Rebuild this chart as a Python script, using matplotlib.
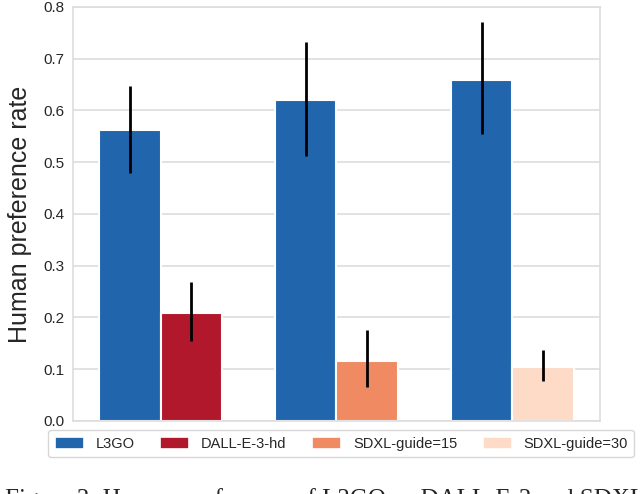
import matplotlib
matplotlib.use("Agg")
import matplotlib.pyplot as plt
import numpy as np
import seaborn as sns

# data
groups = ["DALL-E-3-hd", "SDXL-guide=15", "SDXL-guide=30"]
l3go_vals = [0.562, 0.620, 0.658]
l3go_lo = [0.479, 0.511, 0.554]
l3go_hi = [0.648, 0.732, 0.770]
other_vals = [0.208, 0.116, 0.104]
other_lo = [0.155, 0.066, 0.078]
other_hi = [0.268, 0.175, 0.137]

colors_other = ["#b2182b", "#ef8a62", "#fddbc7"]
color_l3go = "#2166ac"

sns.set_style("whitegrid")
plt.rcParams["font.family"] = ["Liberation Sans", "DejaVu Sans"]

fig = plt.figure(figsize=(6.44, 4.94), dpi=100)
ax = fig.add_axes([0.113, 0.148, 0.819, 0.838])

x = np.arange(len(groups))
w = 0.35
off = 0.175

l3go_err = [np.array(l3go_vals) - np.array(l3go_lo), np.array(l3go_hi) - np.array(l3go_vals)]
ax.bar(x - off, l3go_vals, width=w, color=color_l3go, edgecolor="white", linewidth=1.5,
       yerr=l3go_err, error_kw=dict(ecolor="black", elinewidth=2, capsize=0), zorder=2)

handles = []
handles.append(plt.Rectangle((0, 0), 1, 1, facecolor=color_l3go, edgecolor="white", linewidth=1.2))
for i in range(len(groups)):
    err = [[other_vals[i] - other_lo[i]], [other_hi[i] - other_vals[i]]]
    ax.bar(x[i] + off, other_vals[i], width=w, color=colors_other[i], edgecolor="white",
           linewidth=1.5, yerr=err, error_kw=dict(ecolor="black", elinewidth=2, capsize=0), zorder=2)
    handles.append(plt.Rectangle((0, 0), 1, 1, facecolor=colors_other[i], edgecolor="white", linewidth=1.2))

ax.set_xlim(-0.5, 2.5)
ax.set_ylim(0, 0.8)
ax.set_yticks(np.arange(0, 0.81, 0.1))
ax.set_yticklabels([f"{v:.1f}" for v in np.arange(0, 0.81, 0.1)], fontsize=11)
ax.set_xticks([])
ax.grid(axis="x", visible=False)
ax.grid(axis="y", color="#dddddd", linewidth=1.2, zorder=0)
ax.set_axisbelow(True)
for s in ax.spines.values():
    s.set_color("#dddddd")
    s.set_linewidth(1.2)
ax.tick_params(axis="y", pad=6, length=0)
ax.set_ylabel("Human preference rate", fontsize=18, labelpad=8)

leg = fig.legend(handles, ["L3GO"] + groups, loc="center", bbox_to_anchor=(0.53, 0.102),
                 ncol=4, fontsize=10.5, frameon=True, handlelength=2.0, handleheight=0.9,
                 columnspacing=1.75, handletextpad=0.8, borderpad=0.45)
leg.get_frame().set_edgecolor("#cccccc")

# figure caption, only its top shows at the bottom edge like in the reference
fig.text(0.008, -0.034, "Figure 3: Human preference of L3GO vs DALL-E-3 and SDXL",
         fontsize=18, family=["Liberation Serif", "DejaVu Serif"], va="bottom", ha="left")

fig.savefig("out.png", dpi=100)
